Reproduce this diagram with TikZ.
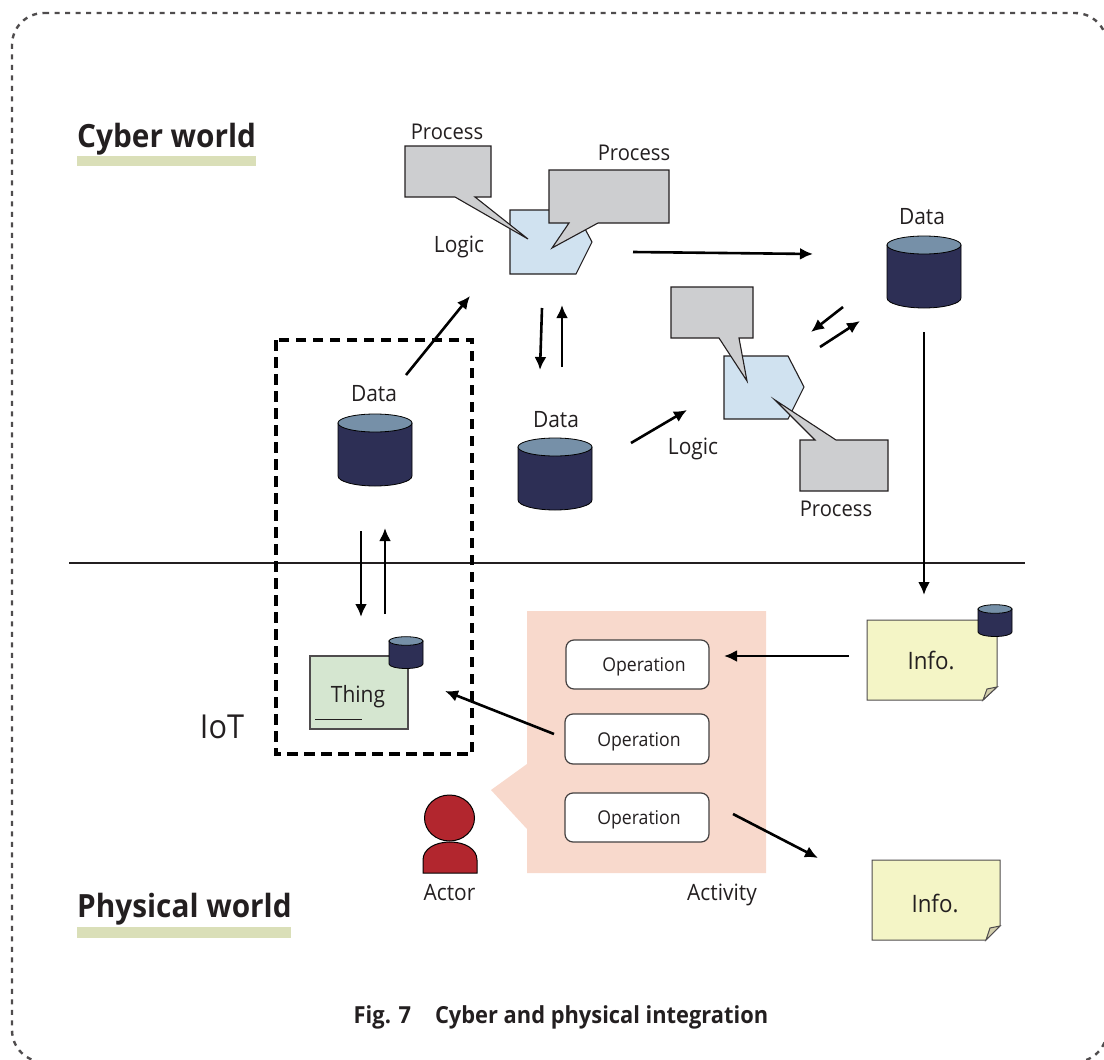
\documentclass[tikz,border=0pt]{standalone}
\usepackage{fontspec}
\setmainfont[FakeStretch=0.93]{Open Sans}
\usetikzlibrary{arrows.meta,calc}
\definecolor{dbdark}{HTML}{2D2F55}
\definecolor{dbtop}{HTML}{7690A8}
\definecolor{procgray}{HTML}{CDCED0}
\definecolor{logicblue}{HTML}{D0E2F0}
\definecolor{infoyellow}{HTML}{F4F5C6}
\definecolor{foldc}{HTML}{D3CFAC}
\definecolor{thinggreen}{HTML}{D5E6D0}
\definecolor{activitybg}{HTML}{F8D9CC}
\definecolor{actorred}{HTML}{B2262E}
\definecolor{underbar}{HTML}{DADFB8}
\definecolor{ink}{HTML}{231F20}
\tikzset{
  x=1pt,y=-1pt,
  lbl/.style={font=\fontsize{22.5}{26}\selectfont,text=ink,inner sep=0pt},
  proclbl/.style={font=\fontsize{21.7}{26}\selectfont,text=ink,inner sep=0pt},
  head/.style={font=\bfseries\fontsize{32}{36}\selectfont,text=ink,inner sep=0pt},
  arr/.style={line width=2.6pt,-{Latex[length=13pt,width=12pt]},black},
  procshape/.style={draw=ink,line width=1.1pt,fill=procgray,line join=miter},
  logicshape/.style={draw=ink,line width=1.1pt,fill=logicblue},
  opbox/.style={draw=ink!85,line width=1.2pt,fill=white,rounded corners=8pt,inner sep=0pt,
    font=\fontsize{19}{22}\selectfont,text=ink},
  db/.pic={
    \fill[dbdark,draw=black,line width=.8pt] (-37,-26) -- (-37,27) arc[start angle=180,end angle=360,x radius=37,y radius=-10] -- (37,-26) -- cycle;
    \draw[fill=dbtop,line width=.8pt,draw=black] (0,-26) ellipse[x radius=37,y radius=9];
  },
  smalldb/.pic={
    \fill[dbdark,draw=black,line width=.8pt] (-17,-11) -- (-17,12) arc[start angle=180,end angle=360,x radius=17,y radius=-4.5] -- (17,-11) -- cycle;
    \draw[fill=dbtop,line width=.8pt,draw=black] (0,-11) ellipse[x radius=17,y radius=4.3];
  },
}
\begin{document}
\begin{tikzpicture}
\useasboundingbox (0,0) rectangle (1104,1060);
% frame
\begin{scope}
\clip (0,0) rectangle (1104,1060);
\draw[dash pattern=on 5pt off 5.5pt,line width=2.4pt,draw=ink!80,rounded corners=32pt] (12,13) -- (1107,13) -- (1107,1062) -- (12,1062) -- cycle;
\end{scope}
% headings
\fill[underbar] (77,156) rectangle (256,166);
\node[head,anchor=base west] (cw) at (77,147) {Cyber world};
\fill[underbar] (77,927) rectangle (291,938);
\node[head,anchor=base west] (pw) at (77,917) {Physical world};
% divider
\coordinate (divL) at (69,563); \coordinate (divR) at (1025,563);
\draw[line width=1.4pt,ink] (divL) -- (divR);
% IoT box
\draw[line width=3.05pt,dash pattern=on 10.5pt off 6.5pt,black] (276,340) rectangle (472,754);
\node[font=\fontsize{33}{38}\selectfont,text=ink,inner sep=0pt,anchor=base] (iot) at (222,738) {IoT};
% top logic
\draw[logicshape] (510,210) -- (575,210) -- (592,242) -- (576,274) -- (510,274) -- cycle;
\draw[procshape] (405,146) -- (491,146) -- (491,197) -- (475,197) -- (528,239) -- (455,197) -- (405,197) -- cycle;
\draw[procshape] (549,170) -- (669,170) -- (669,223) -- (598,223) -- (552,248) -- (569,223) -- (549,223) -- cycle;
\node[proclbl,anchor=base] (p1) at (447,139) {Process};
\node[proclbl,anchor=base] (p2) at (634,160) {Process};
\node[lbl,anchor=base] (l1) at (459,252) {Logic};
% second logic
\draw[logicshape] (724,356) -- (788,356) -- (804,387) -- (788,419) -- (724,419) -- cycle;
\draw[procshape] (671,287) -- (753,287) -- (753,338) -- (739,338) -- (747,381) -- (719,338) -- (671,338) -- cycle;
\draw[procshape] (800,440) -- (815,440) -- (775,400) -- (836,440) -- (888,440) -- (888,491) -- (800,491) -- cycle;
\node[lbl,anchor=base] (l2) at (693,454) {Logic};
\node[proclbl,anchor=base] (p3) at (836,516) {Process};
% databases
\path (924,271) pic {db};
\node[lbl,anchor=base] (d3) at (922,224) {Data};
\path (375,449) pic {db};
\node[lbl,anchor=base] (d1) at (374,401) {Data};
\path (555,473) pic {db};
\node[lbl,anchor=base] (d2) at (556,427) {Data};
% activity
\fill[activitybg] (527,611) -- (766,611) -- (766,873) -- (527,873) -- (527,829) -- (491,790) -- (527,764) -- cycle;
\node[opbox,minimum width=143pt,minimum height=49pt] (o1) at (637.5,664.5) {\raisebox{-7pt}[0pt][0pt]{\hspace{13pt}Operation}};
\node[opbox,minimum width=144pt,minimum height=50pt] (o2) at (637,739) {\raisebox{-7pt}[0pt][0pt]{\hspace{4pt}Operation}};
\node[opbox,minimum width=144pt,minimum height=49pt] (o3) at (637,817.5) {\raisebox{-7pt}[0pt][0pt]{\hspace{4pt}Operation}};
\node[lbl,anchor=base] (act) at (722,900) {Activity};
% actor
\draw[fill=actorred,line width=1pt,draw=black] (423,873) -- (423,860) .. controls (423,849) and (435,842) .. (450,842) .. controls (465,842) and (477,849) .. (477,860) -- (477,873) -- cycle;
\draw[fill=actorred,line width=1pt,draw=black] (449.5,818) ellipse[x radius=25,y radius=23];
\node[lbl,anchor=base] (actor) at (449.5,900) {Actor};
% thing
\draw[fill=thinggreen,line width=1.1pt,draw=ink!80] (310,656) rectangle (408,729);
\draw[line width=.8pt,ink] (315,719) -- (362,719);
\node[lbl,anchor=base] (thing) at (358,702) {Thing};
\path (406,652) pic {smalldb};
% info 1
\draw[fill=infoyellow,line width=1pt,draw=ink!80] (867,620) -- (997,620) -- (997,687) -- (983,700) -- (867,700) -- cycle;
\draw[fill=foldc,line width=1pt,draw=ink!80] (997,687) -- (983,700) -- (987,689) -- cycle;
\path (995,620) pic {smalldb};
\node[font=\fontsize{24}{28}\selectfont,text=ink,inner sep=0pt,anchor=base] (i1) at (931,669) {Info.};
% info 2
\draw[fill=infoyellow,line width=1pt,draw=ink!80] (872,860) -- (1000,860) -- (1000,926) -- (986,940) -- (872,940) -- cycle;
\draw[fill=foldc,line width=1pt,draw=ink!80] (1000,926) -- (986,940) -- (990,928) -- cycle;
\node[font=\fontsize{24}{28}\selectfont,text=ink,inner sep=0pt,anchor=base] (i2) at (935,912) {Info.};
% caption
\node[font=\bfseries\fontsize{23.5}{27}\selectfont,text=ink,inner sep=0pt,anchor=base] (cap) at (561,1023) {Fig. 7\hspace{24pt}Cyber and physical integration};
% arrows
\coordinate (a1s) at (633,252); \coordinate (a1e) at (813,254);
\draw[arr] (a1s) -- (a1e);
\coordinate (a2s) at (406,375); \coordinate (a2e) at (470,296);
\draw[arr] (a2s) -- (a2e);
\coordinate (a3s) at (542,308); \coordinate (a3e) at (540,370);
\draw[arr] (a3s) -- (a3e);
\coordinate (a4s) at (562,367); \coordinate (a4e) at (562,305);
\draw[arr] (a4s) -- (a4e);
\coordinate (a5s) at (631,443); \coordinate (a5e) at (687,410);
\draw[arr] (a5s) -- (a5e);
\coordinate (a6s) at (843,307); \coordinate (a6e) at (811,332);
\draw[arr] (a6s) -- (a6e);
\coordinate (a7s) at (820,347); \coordinate (a7e) at (860,321);
\draw[arr] (a7s) -- (a7e);
\coordinate (a8s) at (924,332); \coordinate (a8e) at (924,595);
\draw[arr] (a8s) -- (a8e);
\coordinate (a9s) at (361,531); \coordinate (a9e) at (361,617);
\draw[arr] (a9s) -- (a9e);
\coordinate (a10s) at (385,614); \coordinate (a10e) at (385,528);
\draw[arr] (a10s) -- (a10e);
\coordinate (a11s) at (849,656); \coordinate (a11e) at (724,656);
\draw[arr] (a11s) -- (a11e);
\coordinate (a12s) at (554,734); \coordinate (a12e) at (445,691);
\draw[arr] (a12s) -- (a12e);
\coordinate (a13s) at (733,814); \coordinate (a13e) at (818,858);
\draw[arr] (a13s) -- (a13e);
\end{tikzpicture}
\end{document}
